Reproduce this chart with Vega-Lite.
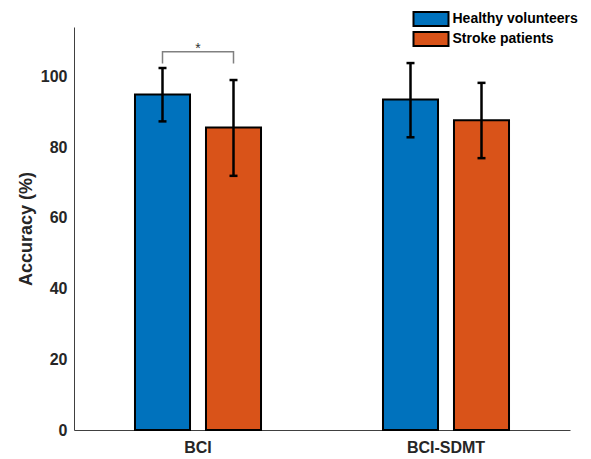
{
  "$schema": "https://vega.github.io/schema/vega-lite/v6.json",
  "width": 496,
  "height": 403,
  "autosize": {"type": "none"},
  "padding": {"left": 74, "top": 27, "right": 21, "bottom": 29},
  "background": "white",
  "config": {
    "view": {"stroke": null},
    "font": "Liberation Sans",
    "axis": {"grid": false, "ticks": false, "domainColor": "#404040", "domainWidth": 1, "labelColor": "#262626", "labelFont": "Liberation Sans", "labelFontWeight": "bold", "labelFontSize": 16, "titleColor": "#262626", "titleFont": "Liberation Sans", "titleFontWeight": "bold", "titleFontSize": 18}
  },
  "datasets": {
    "bars": [
      {"task": "BCI", "group": "Healthy volunteers", "acc": 94.9, "lo": 87.3, "hi": 102.4},
      {"task": "BCI", "group": "Stroke patients", "acc": 85.6, "lo": 71.9, "hi": 99.0},
      {"task": "BCI-SDMT", "group": "Healthy volunteers", "acc": 93.5, "lo": 82.8, "hi": 103.8},
      {"task": "BCI-SDMT", "group": "Stroke patients", "acc": 87.6, "lo": 76.9, "hi": 98.2}
    ],
    "bracket": [
      {"task": "BCI", "group": "Healthy volunteers", "v": 103.7, "o": 1},
      {"task": "BCI", "group": "Healthy volunteers", "v": 107.0, "o": 2},
      {"task": "BCI", "group": "Stroke patients", "v": 107.0, "o": 3},
      {"task": "BCI", "group": "Stroke patients", "v": 103.7, "o": 4}
    ],
    "star": [
      {"task": "BCI", "v": 107.0, "label": "*"}
    ]
  },
  "layer": [
    {
      "data": {"name": "bars"},
      "mark": {"type": "bar", "stroke": "black", "strokeWidth": 2},
      "encoding": {
        "x": {"field": "task", "type": "nominal", "sort": null, "scale": {"paddingInner": 0, "paddingOuter": 0}, "axis": {"title": null, "labelAngle": 0, "labelPadding": 9}},
        "xOffset": {"field": "group", "type": "nominal", "scale": {"paddingInner": 0.225, "paddingOuter": 0.859}},
        "y": {"field": "acc", "type": "quantitative", "scale": {"domain": [0, 114], "nice": false}, "axis": {"title": "Accuracy (%)", "values": [0, 20, 40, 60, 80, 100], "labelPadding": 7, "titlePadding": 5}},
        "fill": {"field": "group", "type": "nominal", "scale": {"domain": ["Healthy volunteers", "Stroke patients"], "range": ["#0072BD", "#D95319"]}, "legend": {"title": null, "orient": "none", "legendX": 349, "legendY": -16, "symbolType": "M-2.5,-1H2.5V1H-2.5Z", "symbolSize": 196, "symbolStrokeColor": "black", "symbolStrokeWidth": 2, "symbolOpacity": 1, "labelFontSize": 14, "labelFontWeight": "bold", "labelColor": "#000000", "labelFont": "Liberation Sans", "labelOffset": 13.5, "rowPadding": -2}}
      }
    },
    {
      "data": {"name": "bars"},
      "mark": {"type": "rule", "color": "black", "strokeWidth": 2.5},
      "encoding": {
        "x": {"field": "task", "type": "nominal", "sort": null},
        "xOffset": {"field": "group", "type": "nominal"},
        "y": {"field": "lo", "type": "quantitative"},
        "y2": {"field": "hi"}
      }
    },
    {
      "data": {"name": "bars"},
      "mark": {"type": "tick", "color": "black", "size": 8, "thickness": 2.5, "opacity": 1},
      "encoding": {
        "x": {"field": "task", "type": "nominal", "sort": null},
        "xOffset": {"field": "group", "type": "nominal"},
        "y": {"field": "lo", "type": "quantitative"}
      }
    },
    {
      "data": {"name": "bars"},
      "mark": {"type": "tick", "color": "black", "size": 8, "thickness": 2.5, "opacity": 1},
      "encoding": {
        "x": {"field": "task", "type": "nominal", "sort": null},
        "xOffset": {"field": "group", "type": "nominal"},
        "y": {"field": "hi", "type": "quantitative"}
      }
    },
    {
      "data": {"name": "bracket"},
      "mark": {"type": "line", "color": "#808080", "strokeWidth": 1.5},
      "encoding": {
        "x": {"field": "task", "type": "nominal", "sort": null},
        "xOffset": {"field": "group", "type": "nominal"},
        "y": {"field": "v", "type": "quantitative"},
        "order": {"field": "o", "type": "quantitative"}
      }
    },
    {
      "data": {"name": "star"},
      "mark": {"type": "text", "fontSize": 14, "color": "#333333", "baseline": "middle", "dy": -3, "font": "Liberation Sans"},
      "encoding": {
        "x": {"field": "task", "type": "nominal", "sort": null},
        "y": {"field": "v", "type": "quantitative"},
        "text": {"field": "label"}
      }
    }
  ]
}
